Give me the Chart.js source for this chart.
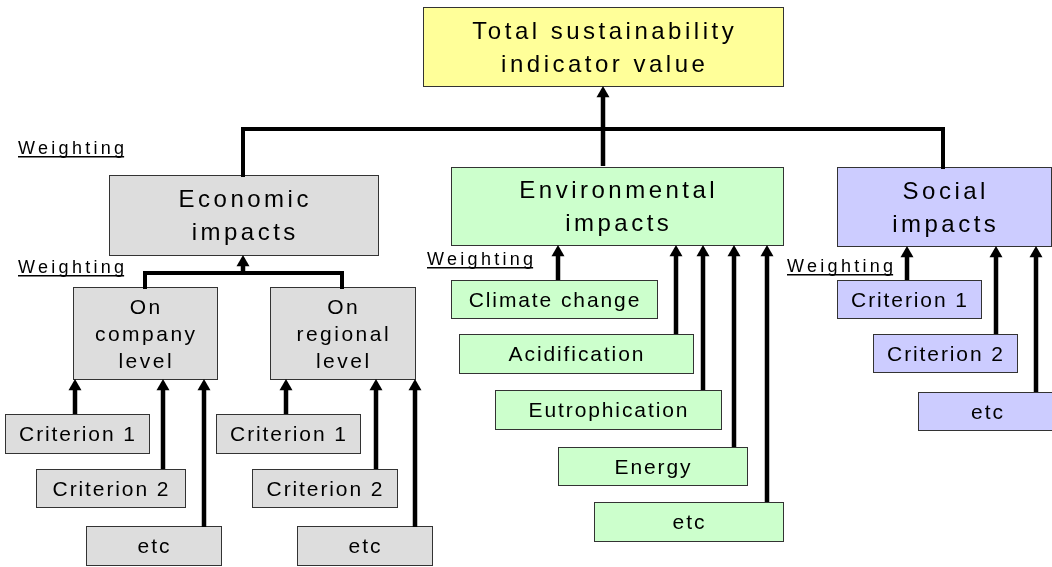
<!DOCTYPE html>
<html>
<head>
<meta charset="utf-8">
<script src="https://cdn.jsdelivr.net/npm/chart.js@4.4.1/dist/chart.umd.min.js"></script>
<style>
  html, body { margin: 0; padding: 0; background: #fff; }
</style>
</head>
<body>
<canvas id="tree" width="1052" height="567"></canvas>
<script>
// Sustainability indicator tree, drawn on a hidden 1052 x 567 linear grid

// boxes: text lines, extents on the grid, colour group, text tier
const boxText = [
    ['Total sustainability', 'indicator value'],
    ['Economic', 'impacts'],
    ['Environmental', 'impacts'],
    ['Social', 'impacts'],
    ['On', 'company', 'level'],
    ['On', 'regional', 'level'],
    ['Criterion 1'], ['Criterion 2'], ['etc'],
    ['Criterion 1'], ['Criterion 2'], ['etc'],
    ['Climate change'], ['Acidification'], ['Eutrophication'], ['Energy'], ['etc'],
    ['Criterion 1'], ['Criterion 2'], ['etc']
];
const boxX0 = [423, 109, 451, 837, 73, 270, 5, 36, 86, 216, 252, 297, 451, 459, 495, 558, 594, 837, 873, 918];
const boxX1 = [783, 378, 783, 1051, 217, 415, 149, 185, 221, 360, 397, 432, 657, 693, 721, 747, 783, 981, 1017, 1056];
const boxY0 = [7, 175, 167, 167, 287, 287, 414, 469, 526, 414, 469, 526, 280, 334, 390, 447, 502, 280, 334, 392];
const boxY1 = [86, 255, 245, 246, 379, 379, 453, 507, 565, 453, 507, 565, 318, 373, 429, 485, 541, 318, 372, 430];
const boxGroup = ['total', 'econ', 'env', 'social', 'econ', 'econ',
    'econ', 'econ', 'econ', 'econ', 'econ', 'econ',
    'env', 'env', 'env', 'env', 'env',
    'social', 'social', 'social'];
const boxTier = [0, 0, 0, 0, 1, 1, 2, 2, 2, 2, 2, 2, 2, 2, 2, 2, 2, 2, 2, 2];

// joining lines without heads
const wires = [
    [[243, 175], [243, 129], [943, 129], [943, 167]],
    [[145, 287], [145, 273], [342, 273], [342, 287]]
];

// arrows pointing up: x, start y, tip y
const arrowX = [603, 243, 75, 163, 204, 286, 376, 415, 558, 676, 703, 734, 767, 907, 996, 1036];
const arrowFrom = [166, 273, 414, 469, 527, 414, 469, 527, 280, 334, 390, 447, 502, 280, 334, 392];
const arrowTo = [86, 255, 379, 379, 379, 379, 379, 379, 245, 245, 245, 245, 245, 246, 246, 246];

// "Weighting" labels (left x, baseline y)
const weightX = [18, 18, 427, 787];
const weightY = [154, 273, 265, 272];

const FAMILY = '"Liberation Sans", Arial, sans-serif';
const fills = { total: '#ffff99', econ: '#dddddd', env: '#ccffcc', social: '#ccccff' };
const tiers = [
    { size: 24, spacing: 3.5, lead: 33 },
    { size: 21, spacing: 2.5, lead: 27 },
    { size: 21, spacing: 1.9, lead: 24 }
];
const HEAD = 7.5;

const datasets = [];
wires.forEach(pts => {
    datasets.push({
        data: pts.map(p => ({ x: p[0], y: p[1] })),
        showLine: true,
        borderColor: '#000',
        borderWidth: 4,
        pointRadius: 0,
        borderCapStyle: 'square'
    });
});
arrowX.forEach((ax, i) => {
    datasets.push({
        data: [{ x: ax, y: arrowFrom[i] }, { x: ax, y: arrowTo[i] + HEAD }],
        showLine: true,
        borderColor: '#000',
        borderWidth: 4.5,
        pointRadius: [0, HEAD],
        pointStyle: 'triangle',
        pointBackgroundColor: '#000',
        pointBorderWidth: 0
    });
});

const boxPlugin = {
    id: 'boxes',
    beforeDatasetsDraw(chart) {
        const { ctx } = chart;
        const xs = chart.scales.x, ys = chart.scales.y;
        ctx.save();
        boxText.forEach((lines, i) => {
            const l = Math.round(xs.getPixelForValue(boxX0[i]));
            const r = Math.round(xs.getPixelForValue(boxX1[i]));
            const t = Math.round(ys.getPixelForValue(boxY0[i]));
            const b = Math.round(ys.getPixelForValue(boxY1[i]));
            ctx.fillStyle = fills[boxGroup[i]];
            ctx.fillRect(l, t, r - l, b - t);
            ctx.strokeStyle = '#333';
            ctx.lineWidth = 1;
            ctx.strokeRect(l + 0.5, t + 0.5, r - l, b - t);

            const tier = tiers[boxTier[i]];
            ctx.font = tier.size + 'px ' + FAMILY;
            ctx.letterSpacing = tier.spacing + 'px';
            ctx.fillStyle = '#000';
            ctx.textAlign = 'center';
            ctx.textBaseline = 'alphabetic';
            const cx = (l + r) / 2 + tier.spacing / 2;
            const cy = (t + b) / 2 + tier.size * 0.36;
            const first = cy - (lines.length - 1) * tier.lead / 2;
            lines.forEach((s, k) => ctx.fillText(s, cx, first + k * tier.lead));
        });
        ctx.restore();
    },
    afterDatasetsDraw(chart) {
        const { ctx } = chart;
        const xs = chart.scales.x, ys = chart.scales.y;
        ctx.save();
        ctx.font = '18px ' + FAMILY;
        ctx.letterSpacing = '3.3px';
        ctx.fillStyle = '#000';
        ctx.textAlign = 'left';
        ctx.textBaseline = 'alphabetic';
        weightX.forEach((wx, i) => {
            const px = xs.getPixelForValue(wx), py = ys.getPixelForValue(weightY[i]);
            ctx.fillText('Weighting', px, py);
            const w = ctx.measureText('Weighting').width - 3.3;
            ctx.fillRect(px, py + 2, w, 1.5);
        });
        ctx.restore();
    }
};

new Chart(document.getElementById('tree'), {
    type: 'scatter',
    data: { datasets: datasets },
    options: {
        responsive: false,
        animation: false,
        events: [],
        layout: { padding: 0, autoPadding: false },
        scales: {
            x: { type: 'linear', min: 0, max: 1052, display: false },
            y: { type: 'linear', min: 0, max: 567, reverse: true, display: false }
        },
        plugins: {
            legend: { display: false },
            tooltip: { enabled: false }
        }
    },
    plugins: [boxPlugin]
});
</script>
</body>
</html>
